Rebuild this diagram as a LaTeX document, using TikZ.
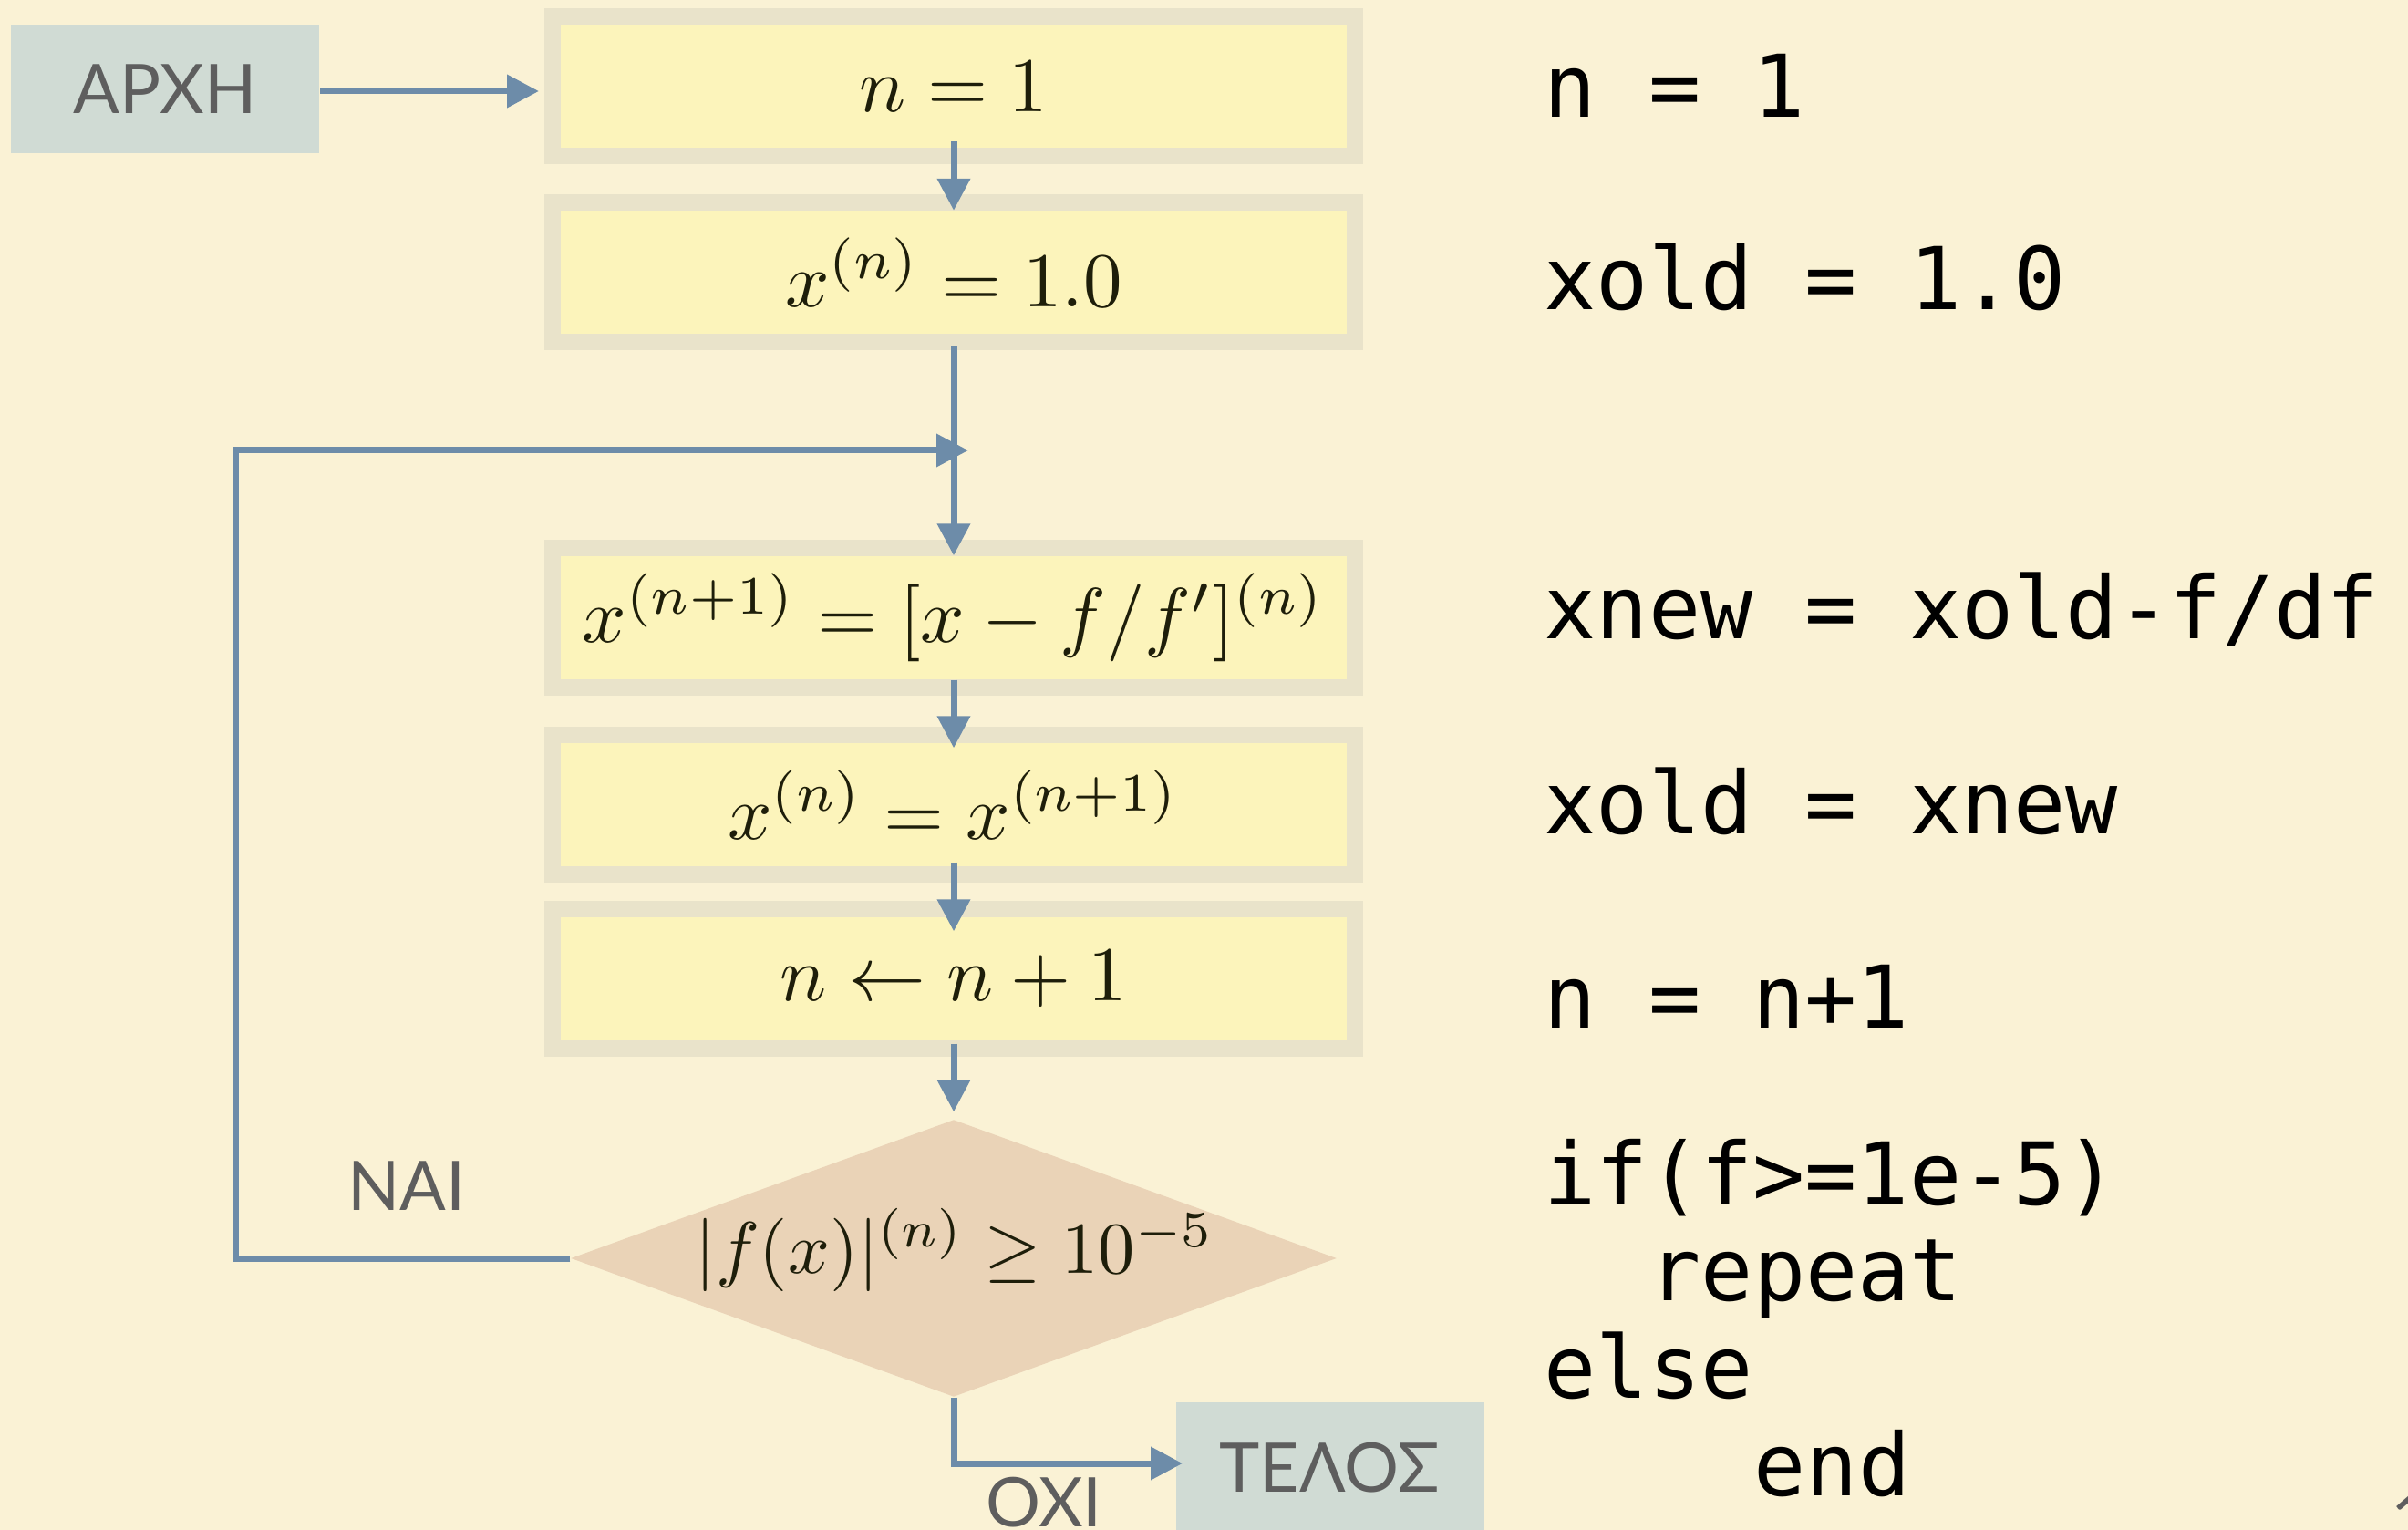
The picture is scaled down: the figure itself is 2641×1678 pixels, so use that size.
\documentclass[tikz,border=0pt]{standalone}
\usepackage{graphicx}
\usepackage{fontspec}
\usetikzlibrary{arrows.meta,shapes.geometric}
\newfontfamily\labelfont{Lato}
\newfontfamily\codefont{DejaVu Sans Mono}
\newcommand{\bigmath}[1]{\scalebox{2.55}{$#1$}}
\newcommand{\dmath}[1]{\scalebox{2.41}{$#1$}}
\definecolor{bgcol}{HTML}{FAF2D5}
\definecolor{ycol}{HTML}{FCF4BB}
\definecolor{shcol}{HTML}{E9E3CA}
\definecolor{dcol}{HTML}{EAD3B7}
\definecolor{gcol}{HTML}{D0DBD4}
\definecolor{acol}{HTML}{6D8CA9}
\definecolor{lcol}{HTML}{5E5E5E}
\definecolor{mcol}{HTML}{1E1E0A}
\tikzset{
  ybox/.style={rectangle, fill=ycol, minimum width=258.6pt, minimum height=40.5pt, inner sep=0pt,
    preaction={draw=shcol, line width=10.8pt}, text=mcol},
  gbox/.style={rectangle, fill=gcol, inner sep=0pt, text=lcol, font=\labelfont\fontsize{22.5}{27}\selectfont},
  lbl/.style={text=lcol, inner sep=0pt, font=\labelfont\fontsize{22.5}{27}\selectfont},
  codeline/.style={anchor=base west, inner sep=0pt, text=black, font=\codefont\fontsize{28.5}{34}\selectfont},
  arr/.style={draw=acol, line width=2.1pt, -{Triangle[length=10.5pt,width=10.5pt]}},
  ln/.style={draw=acol, line width=2.1pt}
}
\begin{document}
\begin{tikzpicture}[x=0.3pt,y=-0.3pt]
\fill[bgcol] (0,0) rectangle (2641,1678);
\useasboundingbox (0,0) rectangle (2641,1678);

% start box
\node[gbox, minimum width=101.4pt, minimum height=42.3pt] (start) at (181,97.5) {ΑΡΧΗ};

% process boxes
\node[ybox] (b1) at (1046,95) {\bigmath{n=1}};
\node[ybox] (b2) at (1046,299) {\bigmath{x^{(n)}=1.0}};
\node[ybox] (b3) at (1046,677.5) {\bigmath{x^{(n+1)}=[x-f/f']^{(n)}}};
\node[ybox] (b4) at (1046,882.5) {\bigmath{x^{(n)}=x^{(n+1)}}};
\node[ybox] (b5) at (1046,1073.5) {\bigmath{n\leftarrow n+1}};

% decision
\node[diamond, fill=dcol, minimum width=252pt, minimum height=91.2pt, inner sep=0pt] (d) at (1046,1380) {};
\node[text=mcol, inner sep=0pt] (dt) at (1047,1371) {\dmath{|f(x)|^{(n)}\geq 10^{-5}}};

% end box
\node[rectangle, fill=gcol, minimum width=101.4pt, minimum height=54.6pt, inner sep=0pt] (end) at (1459,1629) {};
\node[lbl, anchor=base] (endt) at (1458,1636) {ΤΕΛΟΣ};

% labels
\node[lbl, anchor=base] (nai) at (446,1327) {ΝΑΙ};
\node[lbl, anchor=base] (oxi) at (1145,1674) {ΟΧΙ};
\node[lbl, anchor=base west] (pg) at (2622,1692) {1};

% connectors
\coordinate (a1) at (591,100);
\draw[arr] (start.east |- a1) -- (a1);
\draw[arr] ([yshift=2.4pt]b1.south) -- (b2.north);
\draw[arr] ([yshift=-3.9pt]b2.south) -- (b3.north);
\draw[arr] (b3.south) -- ([yshift=-1.8pt]b4.north);
\draw[arr] ([yshift=1.5pt]b4.south) -- ([yshift=-4.8pt]b5.north);
\draw[arr] ([yshift=-0.9pt]b5.south) -- ([yshift=2.4pt]d.north);

\coordinate (lc) at (258,1380);
\coordinate (lt) at (258,494);
\coordinate (lend) at (1062,494);
\draw[arr] (d.west) -- (lc) -- (lt) -- (lend);

\coordinate (oc) at (1046,1605);
\coordinate (otip) at (1297,1605);
\draw[arr] (d.south) -- (oc) -- (otip);

% code
\node[codeline] (c1) at (1693,129) {n = 1};
\node[codeline] (c2) at (1693,340) {xold = 1.0};
\node[codeline] (c3) at (1693,701) {xnew = xold-f/df};
\node[codeline] (c4) at (1693,915) {xold = xnew};
\node[codeline] (c5) at (1693,1128) {n = n+1};
\node[codeline] (c6) at (1693,1321) {if(f>=1e-5)};
\node[codeline] (c7) at (1808,1427) {repeat};
\node[codeline] (c8) at (1693,1533) {else};
\node[codeline] (c9) at (1923,1640) {end};
\end{tikzpicture}
\end{document}
